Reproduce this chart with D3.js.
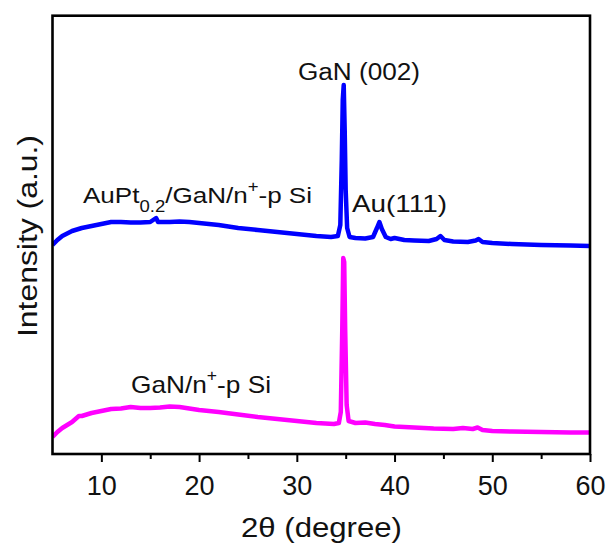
<!DOCTYPE html>
<html>
<head>
<meta charset="utf-8">
<script src="https://cdn.jsdelivr.net/npm/d3@7/dist/d3.min.js"></script>
<style>
  body { margin: 0; background: #fff; }
  text { font-family: Arial, "Liberation Sans", sans-serif; fill: #111; }
</style>
</head>
<body>
<script>
// AuPt0.2/GaN/n+-p Si pattern (blue), intensity in a.u.
const blueTheta = [5, 5.5, 6, 7, 8, 9, 10, 11, 12, 13, 14, 15, 15.6, 15.8, 17, 18, 19, 20, 22, 24, 26, 28, 30, 32, 33.5, 34.2, 34.45, 34.6, 34.7, 34.8, 34.9, 35.0, 35.15, 35.4, 36, 37, 37.8, 38.2, 38.45, 38.7, 39.1, 39.6, 40, 41, 42, 43.5, 44.3, 44.7, 45.1, 46, 47.5, 48.3, 48.6, 49, 50, 52, 55, 58, 60];
const blueIntensity = [209, 214, 218, 223, 226, 228, 230, 232, 232, 231.5, 231.5, 232, 236, 232, 232, 232.5, 232, 231, 229, 226, 224, 222, 220, 218, 217, 218, 229, 294, 354, 369, 324, 264, 226, 217, 216, 215.5, 217, 226, 232, 225, 217, 215, 216, 214, 213.5, 213, 215, 218, 214, 212.5, 212, 213.5, 215, 212, 211, 210, 209, 208.5, 208];

// GaN/n+-p Si pattern (magenta)
const magentaTheta = [5, 5.5, 6, 7, 7.7, 8, 9, 10, 11, 12, 13, 14, 15, 16, 17, 18, 19, 20, 22, 24, 26, 28, 30, 32, 33.8, 34.3, 34.5, 34.65, 34.75, 34.85, 34.95, 35.1, 35.3, 36, 37, 38, 39, 40, 42, 44, 46, 47, 48, 48.5, 49, 50, 52, 55, 58, 60];
const magentaIntensity = [17, 22, 26, 32, 38, 38, 41, 43, 45, 45.5, 47, 46, 46, 46.5, 47.5, 47, 45.5, 44, 42, 39.5, 37, 35, 33, 31, 30, 31, 42, 124, 196, 192, 124, 49, 33, 31, 31.5, 30, 29, 27.5, 26.5, 25.5, 25, 26, 25, 26.5, 24, 23, 22.5, 22, 21.5, 21.5];

const majorTicks = [10, 20, 30, 40, 50, 60];
const minorTicks = [15, 25, 35, 45, 55];

const width = 613;
const height = 545;
const margin = { top: 15.7, right: 23, bottom: 91, left: 52.5 };

const xScale = d3.scaleLinear().domain([5, 60]).range([margin.left, width - margin.right]);
const yScale = d3.scaleLinear().domain([0, 438.3]).range([height - margin.bottom, margin.top]);

const svg = d3
  .select("body")
  .append("svg")
  .attr("width", width)
  .attr("height", height)
  .attr("viewBox", [0, 0, width, height]);

// traces
const line = d3
  .line()
  .x((d) => xScale(d[0]))
  .y((d) => yScale(d[1]));

const clip = svg.append("clipPath").attr("id", "plot-clip").append("rect")
  .attr("x", margin.left)
  .attr("y", margin.top)
  .attr("width", width - margin.left - margin.right)
  .attr("height", height - margin.top - margin.bottom);

const traces = [
  { theta: magentaTheta, values: magentaIntensity, color: "#ff00ff" },
  { theta: blueTheta, values: blueIntensity, color: "#0000ff" },
];
traces.forEach((t) => {
  svg
    .append("path")
    .attr("clip-path", "url(#plot-clip)")
    .attr("d", line(d3.zip(t.theta, t.values)))
    .attr("fill", "none")
    .attr("stroke", t.color)
    .attr("stroke-width", 4.5)
    .attr("stroke-linejoin", "round");
});

// x axis ticks (outward)
const xAxisY = height - margin.bottom;
svg
  .append("g")
  .attr("transform", `translate(0,${xAxisY})`)
  .call(d3.axisBottom(xScale).tickValues(minorTicks).tickSize(5).tickFormat(""))
  .call((g) => g.select(".domain").remove())
  .call((g) => g.selectAll(".tick line").attr("stroke", "#000").attr("stroke-width", 2));

const xAxis = svg
  .append("g")
  .attr("transform", `translate(0,${xAxisY})`)
  .call(d3.axisBottom(xScale).tickValues(majorTicks).tickSize(8).tickFormat(d3.format("d")))
  .call((g) => g.select(".domain").remove())
  .call((g) => g.selectAll(".tick line").attr("stroke", "#000").attr("stroke-width", 2));
xAxis
  .selectAll(".tick text")
  .attr("y", 41)
  .attr("dy", 0)
  .attr("fill", "#111")
  .style("font-size", "27px")
  .style("font-family", "Arial, 'Liberation Sans', sans-serif");

// frame
svg
  .append("rect")
  .attr("x", margin.left)
  .attr("y", margin.top)
  .attr("width", width - margin.left - margin.right)
  .attr("height", height - margin.top - margin.bottom)
  .attr("fill", "none")
  .attr("stroke", "#000")
  .attr("stroke-width", 2.6);

// axis titles
const xTitle = svg
  .append("text")
  .attr("x", 241)
  .attr("y", 537)
  .attr("textLength", 161)
  .attr("lengthAdjust", "spacingAndGlyphs")
  .style("font-size", "27px");
xTitle.append("tspan").text("2θ (degree)");

svg
  .append("text")
  .attr("transform", "translate(37,236) rotate(-90)")
  .attr("text-anchor", "middle")
  .attr("textLength", 202)
  .attr("lengthAdjust", "spacingAndGlyphs")
  .style("font-size", "27px")
  .text("Intensity (a.u.)");

// peak and sample labels
svg
  .append("text")
  .attr("x", 298)
  .attr("y", 80)
  .attr("textLength", 122)
  .attr("lengthAdjust", "spacingAndGlyphs")
  .style("font-size", "23.5px")
  .text("GaN (002)");

svg
  .append("text")
  .attr("x", 352)
  .attr("y", 212)
  .attr("textLength", 95)
  .attr("lengthAdjust", "spacingAndGlyphs")
  .style("font-size", "24px")
  .text("Au(111)");

const blueLabel = svg
  .append("text")
  .attr("x", 83)
  .attr("y", 203)
  .attr("textLength", 229)
  .attr("lengthAdjust", "spacingAndGlyphs")
  .style("font-size", "22.5px");
blueLabel.append("tspan").text("AuPt");
blueLabel.append("tspan").attr("dy", 9).style("font-size", "16px").text("0.2");
blueLabel.append("tspan").attr("dy", -9).text("/GaN/n");
blueLabel.append("tspan").attr("dy", -11).style("font-size", "16px").text("+");
blueLabel.append("tspan").attr("dy", 11).text("-p Si");

const magentaLabel = svg
  .append("text")
  .attr("x", 131)
  .attr("y", 393)
  .attr("textLength", 140)
  .attr("lengthAdjust", "spacingAndGlyphs")
  .style("font-size", "24px");
magentaLabel.append("tspan").text("GaN/n");
magentaLabel.append("tspan").attr("dy", -12).style("font-size", "16px").text("+");
magentaLabel.append("tspan").attr("dy", 12).text("-p Si");
</script>
</body>
</html>
